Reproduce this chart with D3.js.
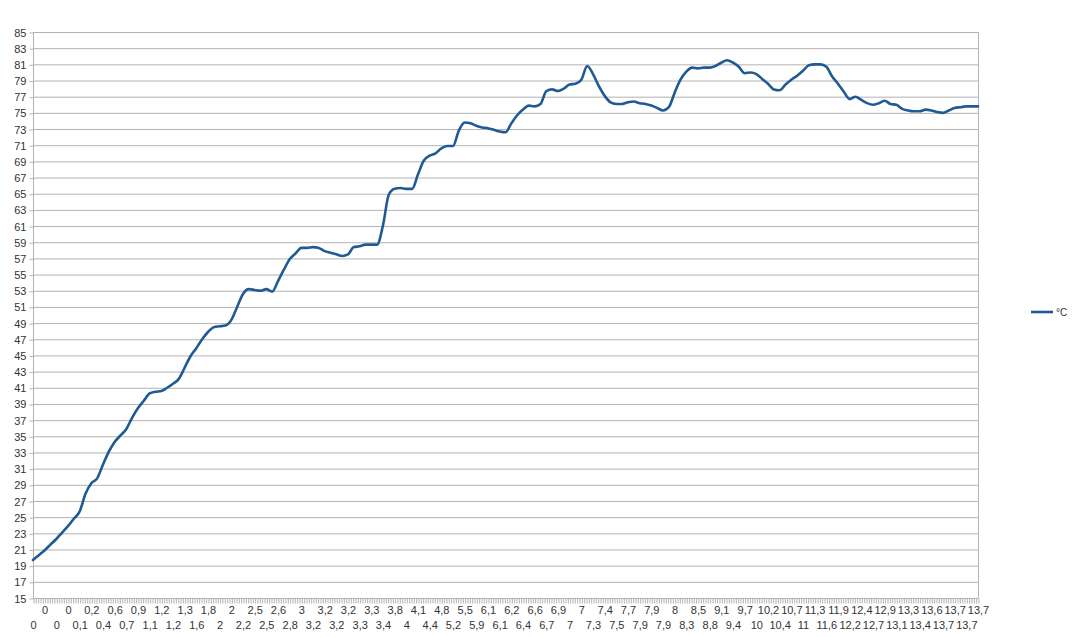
<!DOCTYPE html>
<html>
<head>
<meta charset="utf-8">
<script src="https://cdn.jsdelivr.net/npm/d3@7"></script>
<style>
  html, body { margin: 0; padding: 0; background: #ffffff; }
  svg { display: block; font-family: "Liberation Sans", Arial, sans-serif; }
</style>
</head>
<body>
<svg id="chart" width="1074" height="637"></svg>
<script>
// Series name
const seriesName = "°C";

// Temperature readings (°C), one per sample
const values = [
  19.7, 20.3, 20.9, 21.6, 22.3, 23.1, 23.9, 24.8, 25.7, 27.9,
  29.2, 29.8, 31.5, 33.1, 34.3, 35.1, 35.9, 37.3, 38.5, 39.4,
  40.3, 40.5, 40.6, 41.0, 41.5, 42.1, 43.5, 44.9, 45.9, 47.0,
  47.9, 48.5, 48.6, 48.7, 49.4, 51.0, 52.6, 53.2, 53.1, 53.0,
  53.2, 52.9, 54.2, 55.6, 56.9, 57.6, 58.3, 58.3, 58.4, 58.3,
  57.9, 57.7, 57.5, 57.3, 57.5, 58.4, 58.5, 58.7, 58.7, 58.7,
  61.1, 64.9, 65.6, 65.7, 65.6, 65.6, 67.4, 69.1, 69.7, 70.0,
  70.6, 70.9, 70.9, 72.8, 73.8, 73.7, 73.4, 73.2, 73.1, 72.9,
  72.7, 72.6, 73.7, 74.7, 75.4, 75.9, 75.8, 76.1, 77.7, 77.9,
  77.7, 78.0, 78.5, 78.6, 79.1, 80.8, 79.8, 78.3, 77.1, 76.3,
  76.1, 76.1, 76.3, 76.4, 76.2, 76.1, 75.9, 75.6, 75.3, 75.7,
  77.5, 79.1, 80.1, 80.6, 80.5, 80.6, 80.6, 80.8, 81.2, 81.5,
  81.2, 80.7, 79.9, 80.0, 79.8, 79.2, 78.6, 77.9, 77.8, 78.5,
  79.1, 79.6, 80.2, 80.9, 81.0, 81.0, 80.7, 79.5, 78.6, 77.6,
  76.7, 77.0, 76.6, 76.2, 76.0, 76.2, 76.5, 76.1, 76.0, 75.5,
  75.3, 75.2, 75.2, 75.4, 75.3, 75.1, 75.0, 75.3, 75.6, 75.7,
  75.8, 75.8, 75.8
];

// Category labels shown on the x axis (every second sample), in order
const xTickLabels = [
  "0","0","0","0","0,1","0,2","0,4","0,6","0,7","0,9",
  "1,1","1,2","1,2","1,3","1,6","1,8","2","2","2,2","2,5",
  "2,5","2,6","2,8","3","3,2","3,2","3,2","3,2","3,3","3,3",
  "3,4","3,8","4","4,1","4,4","4,8","5,2","5,5","5,9","6,1",
  "6,1","6,2","6,4","6,6","6,7","6,9","7","7","7,3","7,4",
  "7,5","7,7","7,9","7,9","7,9","8","8,3","8,5","8,8","9,1",
  "9,4","9,7","10","10,2","10,4","10,7","11","11,3","11,6","11,9",
  "12,2","12,4","12,7","12,9","13,1","13,3","13,4","13,6","13,7","13,7",
  "13,7","13,7"
];

// Y axis tick values
const yTicks = d3.range(15, 86, 2);

(function () {
const svg = d3.select("#chart");
const pL = 33, pR = 978, pT = 32, pB = 598;
const gridColor = "#b3b3b3";
const textColor = "#333333";
const lineColor = "#1f5a93";

const x = d3.scaleLinear().domain([0, values.length - 1]).range([pL, pR]);
const y = d3.scaleLinear().domain([15, 85]).range([pB, pT]);

// Horizontal grid lines
svg.append("g")
  .selectAll("line")
  .data(yTicks)
  .join("line")
  .attr("x1", pL).attr("x2", pR)
  .attr("y1", d => y(d) + 0.5).attr("y2", d => y(d) + 0.5)
  .attr("stroke", gridColor).attr("stroke-width", 1);

// Right border
svg.append("line")
  .attr("x1", pR + 0.5).attr("x2", pR + 0.5)
  .attr("y1", pT).attr("y2", pB)
  .attr("stroke", gridColor);

// Y axis
const yAxis = svg.append("g")
  .attr("transform", `translate(${pL + 0.5},0.5)`)
  .call(d3.axisLeft(y).tickValues(yTicks).tickSize(4).tickPadding(3).tickFormat(d3.format("d")));
yAxis.select(".domain").attr("stroke", gridColor).attr("d", `M0,${pT - 0.5}V${pB}`);
yAxis.selectAll(".tick line").attr("stroke", gridColor);
yAxis.selectAll(".tick text")
  .attr("fill", textColor).attr("font-size", 11)
  .attr("font-family", "Liberation Sans, Arial, sans-serif");

// X axis minor ticks
const minorTicks = d3.range(0, values.length - 1 + 0.0001, 0.4);
const xMinor = svg.append("g")
  .attr("transform", `translate(0.5,${pB + 0.5})`)
  .call(d3.axisBottom(x).tickValues(minorTicks).tickSize(5).tickFormat(""));
xMinor.select(".domain").attr("stroke", gridColor).attr("d", `M${pL - 0.5},0H${pR}`);
xMinor.selectAll(".tick line").attr("stroke", gridColor);

// X axis labels (staggered in two rows)
const labelIdx = xTickLabels.map((_, i) => i * 2);
const xLab = svg.append("g")
  .attr("transform", `translate(0,${pB})`)
  .call(d3.axisBottom(x).tickValues(labelIdx).tickSize(0)
        .tickFormat((d) => xTickLabels[d / 2]));
xLab.select(".domain").remove();
xLab.selectAll(".tick text")
  .attr("fill", textColor).attr("font-size", 11)
  .attr("font-family", "Liberation Sans, Arial, sans-serif")
  .attr("y", (d) => ((d / 2) % 2 === 0 ? 23 : 8));

// Data line
const line = d3.line()
  .x((d, i) => x(i))
  .y(d => y(d))
  .curve(d3.curveMonotoneX);

svg.append("path")
  .datum(values)
  .attr("fill", "none")
  .attr("stroke", lineColor)
  .attr("stroke-width", 2.6)
  .attr("stroke-linejoin", "round")
  .attr("stroke-linecap", "round")
  .attr("d", line);

// Legend
const lg = svg.append("g").attr("transform", "translate(1031,312)");
lg.append("line").attr("x1", 0).attr("x2", 22).attr("y1", 0).attr("y2", 0)
  .attr("stroke", lineColor).attr("stroke-width", 2.6);
lg.append("text").attr("x", 25).attr("y", 4)
  .attr("font-size", 10).attr("fill", textColor).text(seriesName);
})();
</script>
</body>
</html>
